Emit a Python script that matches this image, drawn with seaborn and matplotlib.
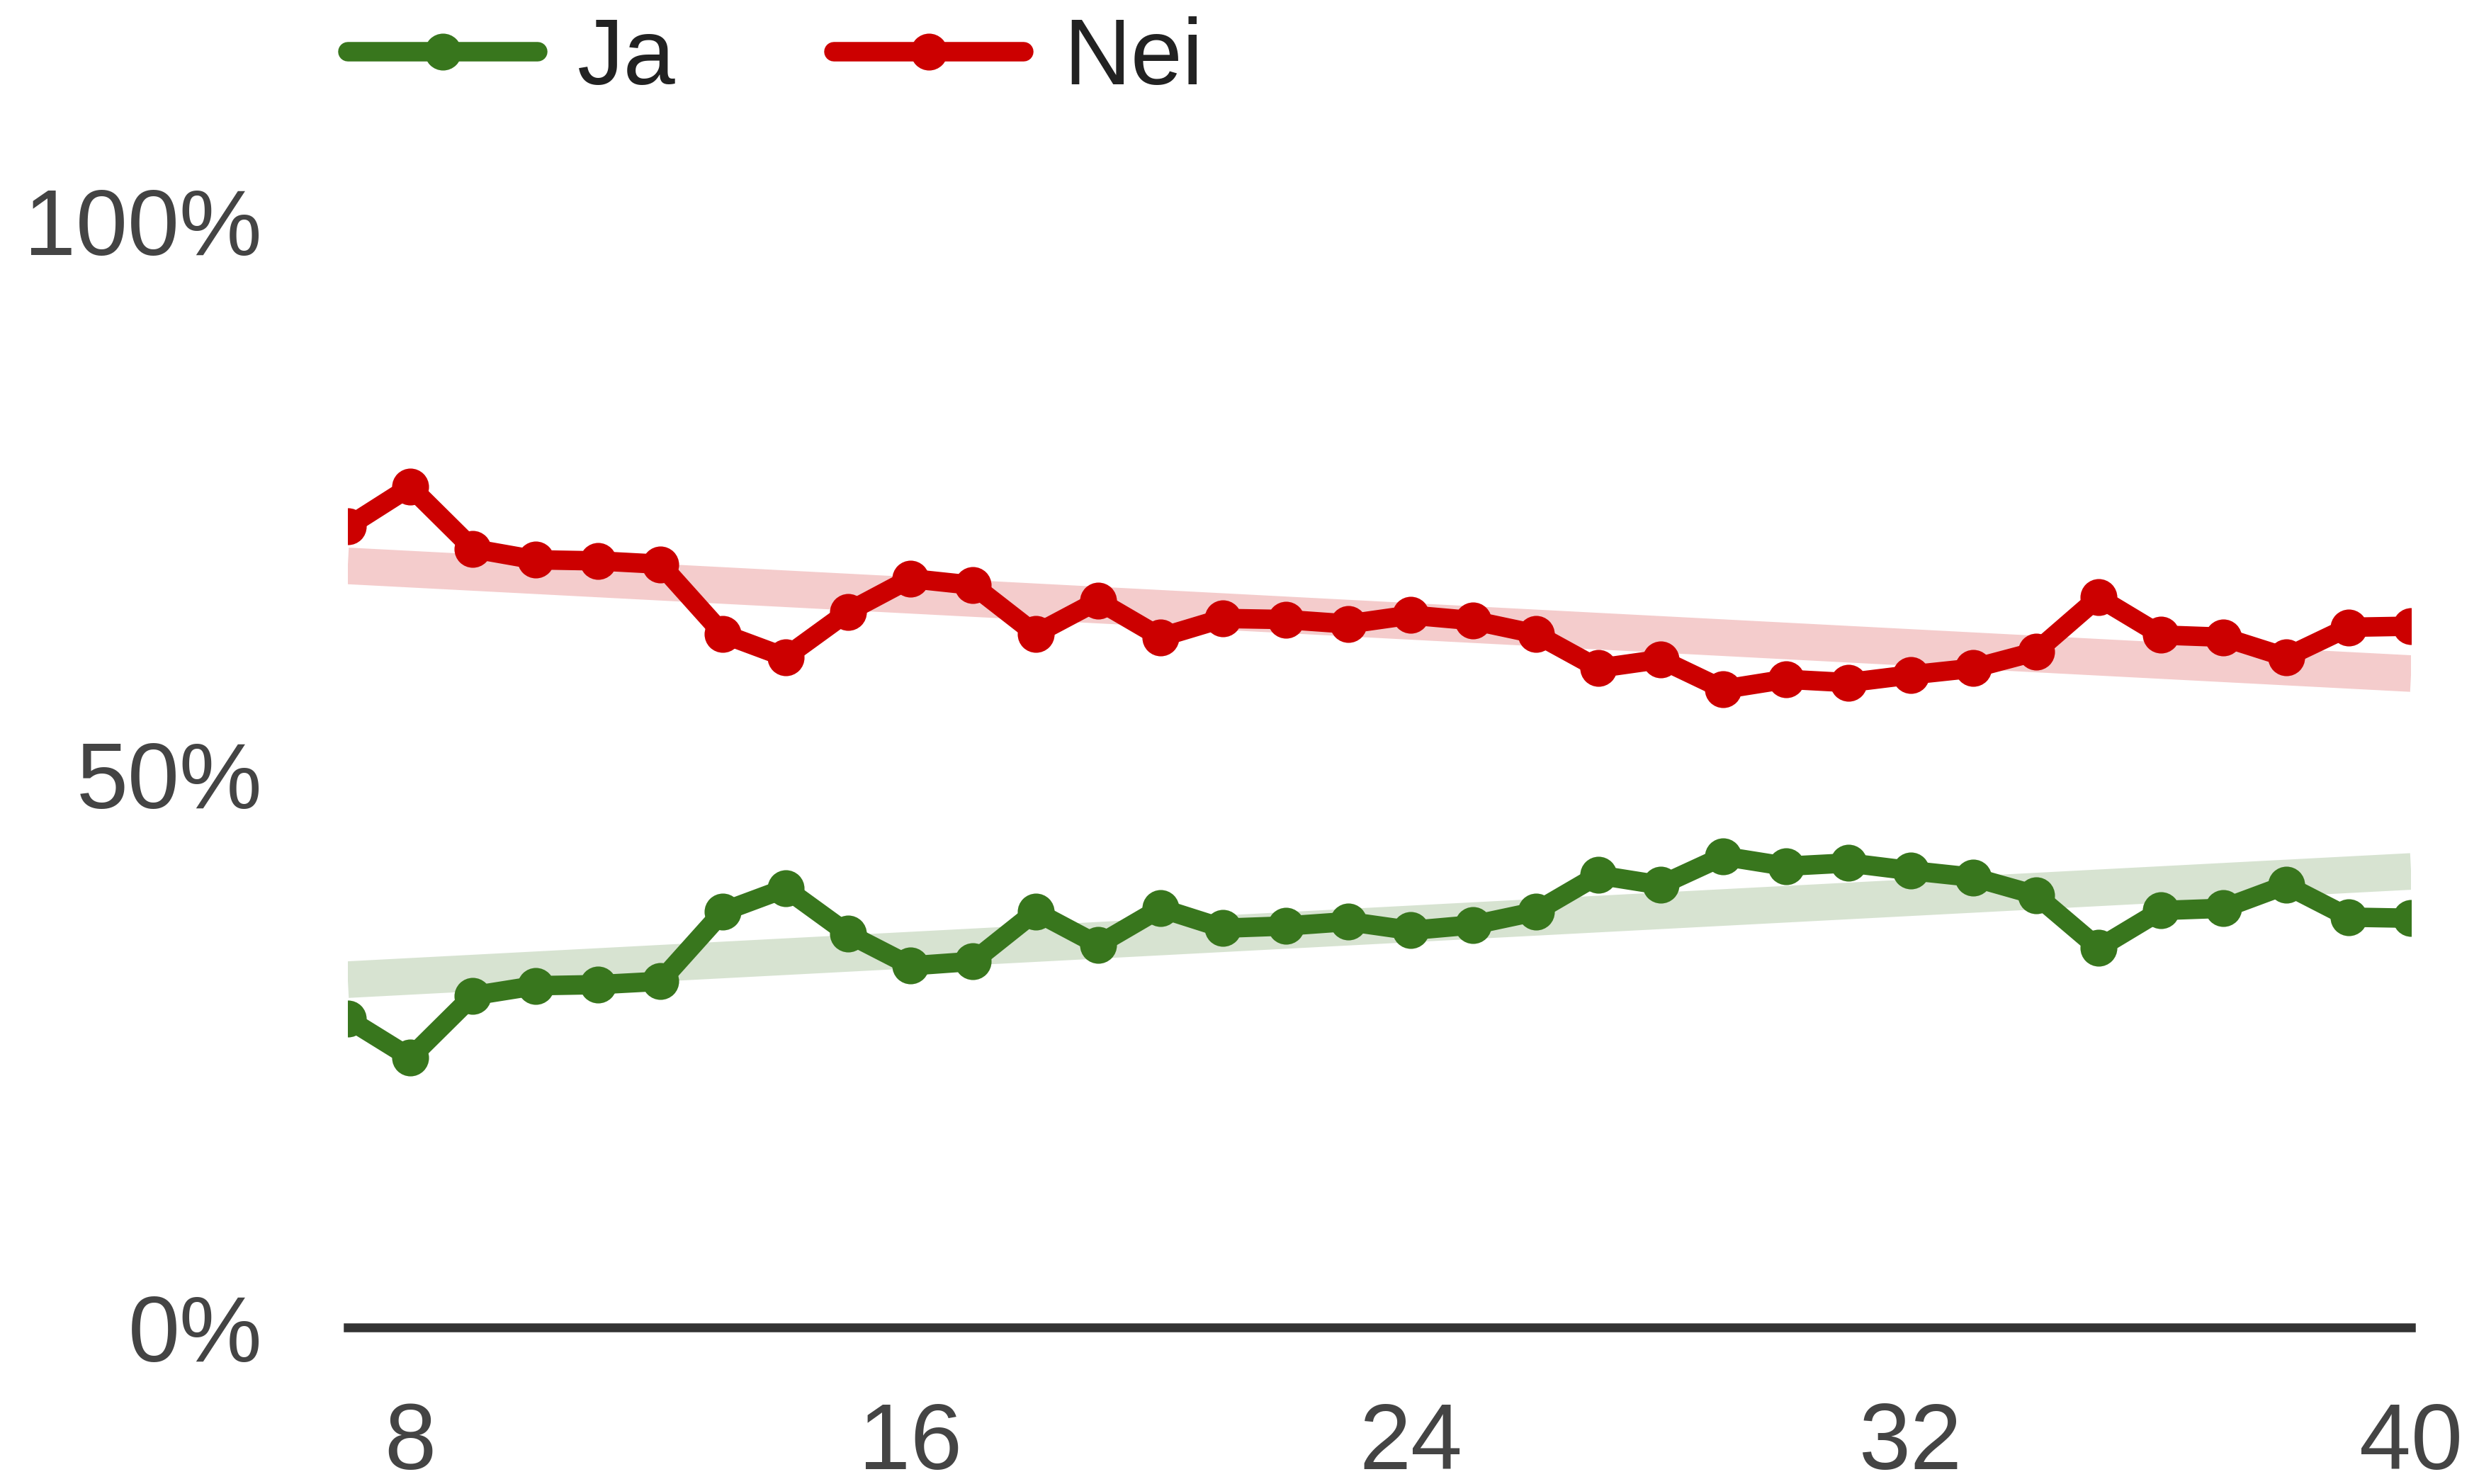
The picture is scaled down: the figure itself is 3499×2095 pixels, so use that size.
import pandas as pd
import matplotlib.pyplot as plt
import seaborn as sns

# Week numbers and share of answers (percent)
weeks = list(range(7, 41))
ja = [27.9, 24.4, 30.0, 30.9, 31.0, 31.3, 37.6, 39.7, 35.6, 32.7, 33.1, 37.6,
      34.6, 37.9, 36.1, 36.3, 36.7, 35.9, 36.4, 37.6, 40.9, 40.0, 42.6, 41.7,
      42.0, 41.3, 40.7, 39.1, 34.3, 37.7, 37.9, 40.0, 37.1, 37.0]
nei = [72.4, 76.0, 70.4, 69.4, 69.3, 69.0, 62.7, 60.6, 64.7, 67.7, 67.1, 62.7,
       65.7, 62.4, 64.1, 64.0, 63.6, 64.4, 63.9, 62.7, 59.6, 60.4, 57.7, 58.6,
       58.3, 59.0, 59.6, 61.1, 66.0, 62.6, 62.4, 60.6, 63.3, 63.4]
xticks = [8, 16, 24, 32, 40]
yticks = [0, 50, 100]

green = "#38761d"
red = "#cc0000"

df = pd.DataFrame({"Uke": weeks, "Ja": ja, "Nei": nei})

sns.set_style("white")
plt.rcParams['font.family'] = ['Liberation Sans', 'DejaVu Sans']

fig = plt.figure(figsize=(3499 / 300, 2095 / 300), dpi=300)
ax = fig.add_axes([0.1403, 0.1054, 0.8323, 0.7455])

# trend bands (linear fit)
sns.regplot(x="Uke", y="Nei", data=df, scatter=False, ci=None, truncate=True,
            line_kws=dict(color=red, alpha=0.2, lw=12.4, solid_capstyle='butt'), ax=ax)
sns.regplot(x="Uke", y="Ja", data=df, scatter=False, ci=None, truncate=True,
            line_kws=dict(color=green, alpha=0.2, lw=12.4, solid_capstyle='butt'), ax=ax)

sns.lineplot(x="Uke", y="Ja", data=df, color=green, lw=6.6, marker='o',
             markersize=12.5, markeredgewidth=0, label="Ja", ax=ax)
sns.lineplot(x="Uke", y="Nei", data=df, color=red, lw=6.6, marker='o',
             markersize=12.5, markeredgewidth=0, label="Nei", ax=ax)

ax.set_xlim(7, 40)
ax.set_ylim(0, 100)
ax.set_xticks(xticks)
ax.set_yticks(yticks)
ax.set_yticklabels([f"{v}%" for v in yticks])
ax.set_xlabel("")
ax.set_ylabel("")
ax.tick_params(axis='both', length=0, labelsize=31.5, labelcolor="#444444")
ax.tick_params(axis='x', pad=25)
ax.tick_params(axis='y', pad=29)

sns.despine(ax=ax, left=True, top=True, right=True)
ax.spines['bottom'].set_color("#333333")
ax.spines['bottom'].set_linewidth(3)

ax.legend(loc='center left', bbox_to_anchor=(0.1403, 0.9595),
          bbox_transform=fig.transFigure, ncol=2, frameon=False,
          fontsize=31.5, handlelength=2.04, handletextpad=0.43,
          columnspacing=1.7, borderpad=0, borderaxespad=0)
for t in ax.get_legend().get_texts():
    t.set_color("#222222")

fig.savefig("out.png", dpi=300)
